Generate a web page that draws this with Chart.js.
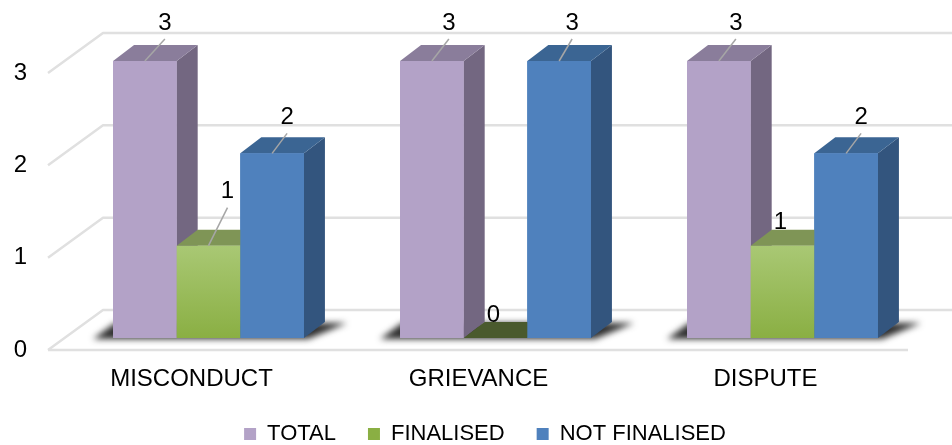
<!DOCTYPE html>
<html><head><meta charset="utf-8">
<script src="https://cdn.jsdelivr.net/npm/chart.js@4.4.1/dist/chart.umd.min.js"></script>
<style>html,body{margin:0;padding:0;background:#fff}canvas{display:block}</style>
</head><body>
<canvas id="c" width="952" height="445"></canvas>
<script>
// ---- data ----
const categories = ['MISCONDUCT', 'GRIEVANCE', 'DISPUTE'];
const seriesNames = ['TOTAL', 'FINALISED', 'NOT FINALISED'];
const totalValues = [3, 3, 3];
const finalisedValues = [1, 0, 1];
const notFinalisedValues = [2, 3, 2];
const yTicks = [0, 1, 2, 3];

// ---- style ----
const FONT = 'Liberation Sans, Arial, sans-serif';
const DX = 21, DY = 16;
const faces = [
  { front: '#B3A2C7', side: '#736781', top: '#8A7D9B' },
  { front: '#9BBB59', side: '#6F8A3E', top: '#7F9556', zeroTop: '#4A5A2D' },
  { front: '#4F81BD', side: '#33557E', top: '#3B6593' }
];
// leader line [dx, dy] per series / category (null = no leader)
const leaders = [
  [[20, 22], [17, 22], [17, 22]],
  [[19, 38], null, null],
  [[15, 20], [13, 22], [15, 20]]
];

function greenFill(ctx) {
  const chart = ctx.chart;
  if (ctx.type !== 'data' || !chart.chartArea) return faces[1].front;
  const y = chart.scales.y;
  const g = chart.ctx.createLinearGradient(0, y.getPixelForValue(1), 0, y.getPixelForValue(0));
  g.addColorStop(0, '#A9C874');
  g.addColorStop(1, '#8AAF43');
  return g;
}

const bar3d = {
  id: 'bar3d',
  afterLayout(chart) {
    const lg = chart.legend;
    if (lg) { lg.left += 22; lg.right += 22; }
  },
  beforeDatasetsDraw(chart) {
    const { ctx, chartArea: ca, scales: { y } } = chart;
    const y0 = y.getPixelForValue(0);
    ctx.save();
    ctx.strokeStyle = '#e0e0e0';
    ctx.lineWidth = 2.5;
    ctx.lineJoin = 'round';
    yTicks.forEach(v => {
      const yf = y.getPixelForValue(v);
      ctx.beginPath();
      ctx.moveTo(ca.left - 17, yf + 12);
      ctx.lineTo(ca.left + 38, yf - 28);
      ctx.lineTo(chart.width, yf - 28);
      ctx.stroke();
    });
    ctx.beginPath();
    ctx.moveTo(ca.left - 17, y0 + 12);
    ctx.lineTo(ca.right - 18, y0 + 12);
    ctx.stroke();
    // floor shadows
    const m0 = chart.getDatasetMeta(0), m2 = chart.getDatasetMeta(2);
    ctx.filter = 'blur(3px)';
    ctx.fillStyle = 'rgba(35,35,35,0.95)';
    categories.forEach((c, i) => {
      const b0 = m0.data[i], b2 = m2.data[i];
      const x0 = b0.x - b0.width / 2, x1 = b2.x + b2.width / 2;
      ctx.beginPath();
      ctx.moveTo(x0 - 20, y0 + 1);
      ctx.lineTo(x0 + 2, y0 - 15);
      ctx.lineTo(x1 + DX + 22, y0 - 15);
      ctx.lineTo(x1 + 4, y0 + 1);
      ctx.closePath();
      ctx.fill();
    });
    ctx.restore();
  },
  afterDatasetsDraw(chart) {
    const ctx = chart.ctx;
    const y0 = chart.scales.y.getPixelForValue(0);
    // 3D faces, series drawn left to right so nearer faces overlap correctly
    ctx.save();
    chart.data.datasets.forEach((ds, i) => {
      const st = faces[i];
      chart.getDatasetMeta(i).data.forEach((b) => {
        const l = b.x - b.width / 2, r = b.x + b.width / 2, t = b.y;
        ctx.fillStyle = st.side;
        ctx.beginPath();
        ctx.moveTo(r, t); ctx.lineTo(r + DX, t - DY); ctx.lineTo(r + DX, y0 - DY); ctx.lineTo(r, y0);
        ctx.closePath(); ctx.fill();
        ctx.fillStyle = (t >= y0 - 0.5 && st.zeroTop) ? st.zeroTop : st.top;
        ctx.beginPath();
        ctx.moveTo(l, t); ctx.lineTo(l + DX, t - DY); ctx.lineTo(r + DX, t - DY); ctx.lineTo(r, t);
        ctx.closePath(); ctx.fill();
        b.draw(ctx);
      });
    });
    ctx.restore();
    // data labels
    ctx.save();
    ctx.font = '24px ' + FONT;
    ctx.textAlign = 'center';
    ctx.textBaseline = 'middle';
    chart.data.datasets.forEach((ds, i) => {
      const meta = chart.getDatasetMeta(i);
      meta.data.forEach((b, j) => {
        const L = leaders[i][j];
        let lx, ly;
        if (L) {
          const sx = b.x, sy = b.y;
          const ex = sx + L[0], ey = sy - L[1];
          ctx.strokeStyle = '#a6a6a6';
          ctx.lineWidth = 1.5;
          ctx.beginPath(); ctx.moveTo(sx, sy); ctx.lineTo(ex, ey); ctx.stroke();
          lx = ex; ly = ey - 16;
        } else {
          lx = b.x - 2; ly = b.y - 23;
        }
        ctx.fillStyle = '#000';
        ctx.fillText(String(ds.data[j]), lx, ly);
      });
    });
    ctx.restore();
  }
};

new Chart(document.getElementById('c'), {
  type: 'bar',
  data: {
    labels: categories,
    datasets: [
      { label: seriesNames[0], data: totalValues, backgroundColor: faces[0].front },
      { label: seriesNames[1], data: finalisedValues, backgroundColor: greenFill },
      { label: seriesNames[2], data: notFinalisedValues, backgroundColor: faces[2].front }
    ]
  },
  options: {
    responsive: false,
    animation: false,
    devicePixelRatio: 1,
    layout: { padding: { top: 61, right: 26, left: 0, bottom: -10 } },
    datasets: { bar: { categoryPercentage: 0.665, barPercentage: 1.0, borderWidth: 0, clip: false } },
    scales: {
      x: {
        grid: { display: false, drawTicks: false },
        border: { display: false },
        ticks: { font: { family: FONT, size: 24 }, color: '#000', padding: 27, labelOffset: -17, maxRotation: 0 },
        afterFit(s) { s.height = 53; }
      },
      y: {
        min: 0, max: 3,
        grid: { display: false, drawTicks: false },
        border: { display: false },
        ticks: { stepSize: 1, font: { family: FONT, size: 24 }, color: '#000', padding: 38, labelOffset: 12 },
        afterFit(s) { s.width = 65; }
      }
    },
    plugins: {
      tooltip: { enabled: false },
      legend: {
        position: 'bottom',
        labels: {
          font: { family: FONT, size: 22 }, color: '#000',
          boxWidth: 12, boxHeight: 12, padding: 32
        }
      }
    }
  },
  plugins: [bar3d]
});
</script>
</body></html>
